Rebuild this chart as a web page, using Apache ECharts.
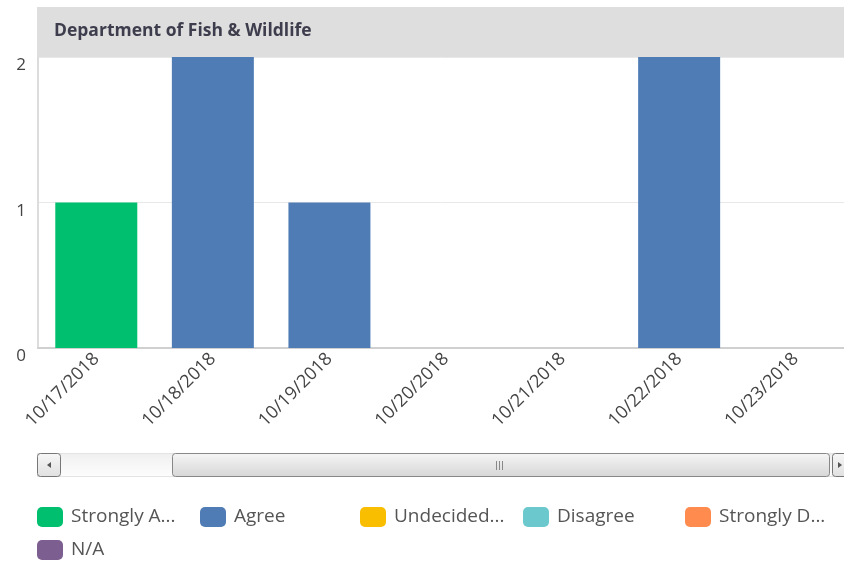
<!DOCTYPE html>
<html>
<head>
<meta charset="utf-8">
<script src="https://cdn.jsdelivr.net/npm/echarts@6/dist/echarts.min.js"></script>
<style>html,body{margin:0;padding:0;background:#fff}#c{width:844px;height:561px}</style>
</head>
<body>
<div id="c"></div>
<script>
const categories = ['10/17/2018','10/18/2018','10/19/2018','10/20/2018','10/21/2018','10/22/2018','10/23/2018'];
const seriesNames = ['Strongly Agree','Agree','Undecided/Neutral','Disagree','Strongly Disagree','N/A'];
const legendLabels = ['Strongly A...','Agree','Undecided...','Disagree','Strongly D...','N/A'];
const stronglyAgree = [1, null, null, null, null, null, null];
const agree = [null, 2, 1, null, null, 2, null];
const undecided = [null, null, null, null, null, null, null];
const disagree = [null, null, null, null, null, null, null];
const stronglyDisagree = [null, null, null, null, null, null, null];
const na = [null, null, null, null, null, null, null];
const yTicks = [0, 1, 2];
const title = 'Department of Fish & Wildlife';

const colors = ['#00bf6f','#507cb6','#f9be00','#6bc8cd','#ff8b4f','#7d5e90'];
const values = [stronglyAgree, agree, undecided, disagree, stronglyDisagree, na];
const FONT = 'Open Sans';

const legendPos = [[37,507],[200,507],[360,507],[523,507],[685,507],[37,540]];
const legends = seriesNames.map((n,i)=>({
  data:[n], left:legendPos[i][0], top:legendPos[i][1],
  itemWidth:26, itemHeight:20, icon:'roundRect', padding:0,
  formatter:()=>legendLabels[i],
  textStyle:{fontFamily:FONT, fontSize:19, color:'#555', padding:[2,0,0,3]},
  selectedMode:false
}));

const chart = echarts.init(document.getElementById('c'));
chart.setOption({
  animation:false,
  color:colors,
  grid:{left:38, top:57, right:-10, height:291, outerBoundsMode:'none', containLabel:false},
  legend:legends,
  xAxis:{type:'category', data:categories,
    axisLine:{lineStyle:{color:'#d0d0d0', width:2}},
    axisTick:{show:false},
    axisLabel:{rotate:45, fontFamily:FONT, fontSize:18, color:'#444', margin:8, interval:0}
  },
  yAxis:{type:'value', min:yTicks[0], max:yTicks[yTicks.length-1], interval:1,
    axisLine:{show:true, lineStyle:{color:'#dcdcdc', width:2}},
    axisTick:{show:false},
    axisLabel:{fontFamily:FONT, fontSize:17, color:'#444', margin:12, verticalAlign:'top'},
    splitLine:{lineStyle:{color:'#e8e8e8'}}
  },
  series:seriesNames.map((n,i)=>({
    name:n, type:'bar', stack:'s', data:values[i], barWidth:82
  })),
  graphic:[
    {type:'rect', shape:{x:37,y:7,width:807,height:50}, style:{fill:'#dedede'}, z:10},
    {type:'text', x:54, y:31, style:{text:title, fontFamily:FONT, fontWeight:'bold', fontSize:17.5, fill:'#3d3d4d', verticalAlign:'middle'}, z:11},
    {type:'rect', shape:{x:37.5,y:453.5,width:807,height:23}, style:{fill:new echarts.graphic.LinearGradient(0,0,0,1,[{offset:0,color:'#f0f0f0'},{offset:1,color:'#fdfdfd'}]), stroke:'#e4e4e4', lineWidth:1}, z:10},
    {type:'rect', shape:{x:37.5,y:453.5,width:23,height:23,r:3}, style:{fill:new echarts.graphic.LinearGradient(0,0,0,1,[{offset:0,color:'#f7f7f7'},{offset:1,color:'#e0e0e0'}]), stroke:'#777', lineWidth:1}, z:11},
    {type:'polygon', shape:{points:[[51,462],[51,468],[47,465]]}, style:{fill:'#555'}, z:12},
    {type:'rect', shape:{x:172.5,y:453.5,width:657,height:23,r:3}, style:{fill:new echarts.graphic.LinearGradient(0,0,0,1,[{offset:0,color:'#f6f6f6'},{offset:1,color:'#d6d6d6'}]), stroke:'#888', lineWidth:1}, z:11},
    {type:'line', shape:{x1:496.5,y1:461,x2:496.5,y2:470}, style:{stroke:'#888', lineWidth:1}, z:12},
    {type:'line', shape:{x1:499.5,y1:461,x2:499.5,y2:470}, style:{stroke:'#888', lineWidth:1}, z:12},
    {type:'line', shape:{x1:502.5,y1:461,x2:502.5,y2:470}, style:{stroke:'#888', lineWidth:1}, z:12},
    {type:'rect', shape:{x:832.5,y:453.5,width:23,height:23,r:3}, style:{fill:new echarts.graphic.LinearGradient(0,0,0,1,[{offset:0,color:'#f7f7f7'},{offset:1,color:'#e0e0e0'}]), stroke:'#777', lineWidth:1}, z:11},
    {type:'polygon', shape:{points:[[838,462],[838,468],[842,465]]}, style:{fill:'#555'}, z:12}
  ]
});
</script>
</body>
</html>
